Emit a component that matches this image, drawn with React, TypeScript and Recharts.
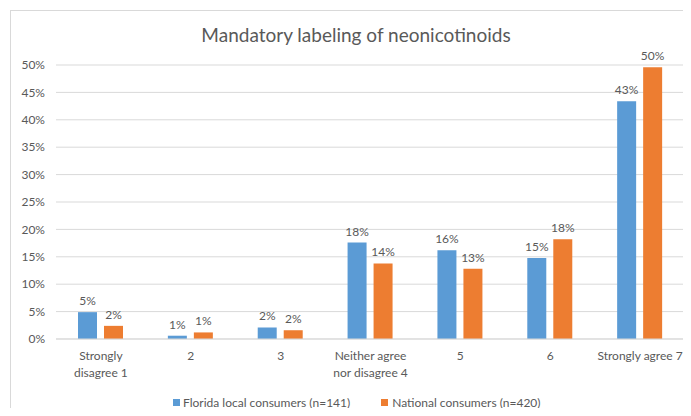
import { Bar, BarChart, CartesianGrid, LabelList, XAxis, YAxis } from "recharts";

const categories = [
  "Strongly disagree 1",
  "2",
  "3",
  "Neither agree nor disagree 4",
  "5",
  "6",
  "Strongly agree 7",
];
const tickLines = [
  ["Strongly", "disagree 1"],
  ["2"],
  ["3"],
  ["Neither agree", "nor disagree 4"],
  ["5"],
  ["6"],
  ["Strongly agree 7"],
];
const florida = [4.9, 0.6, 2.1, 17.6, 16.2, 14.8, 43.4];
const national = [2.4, 1.2, 1.6, 13.8, 12.8, 18.2, 49.6];
const yTicks = [0, 5, 10, 15, 20, 25, 30, 35, 40, 45, 50];

const data = categories.map((c, i) => ({
  name: c,
  florida: florida[i],
  national: national[i],
}));

const FONT = "Lato, 'Open Sans', sans-serif";
const TEXT = "#595959";
const BLUE = "#5b9bd5";
const ORANGE = "#ed7d31";

function CatTick(props: any) {
  const { x, payload } = props;
  const lines = tickLines[payload.index] || [payload.value];
  // axis sits at y=339; first line baseline ~360
  return (
    <text x={x} y={339} textAnchor="middle" fill={TEXT} fontSize={12} fontFamily={FONT}>
      {lines.map((l: string, i: number) => (
        <tspan key={i} x={x} dy={i === 0 ? 21 : 17}>
          {l}
        </tspan>
      ))}
    </text>
  );
}

export default function App() {
  return (
    <div style={{ margin: -8, width: 691, height: 416, position: "relative", overflow: "hidden", background: "#fff", fontFamily: FONT }}>
      <div
        style={{
          position: "absolute",
          left: 10,
          top: 10,
          width: 720,
          height: 440,
          border: "1px solid #d9d9d9",
        }}
      />
      <div
        style={{
          position: "absolute",
          top: 23,
          left: 0,
          width: 712,
          textAlign: "center",
          fontSize: 19,
          color: TEXT,
        }}
      >
        Mandatory labeling of neonicotinoids
      </div>
      <div style={{ position: "absolute", left: 0, top: 0 }}>
        <BarChart
          width={691}
          height={416}
          data={data}
          margin={{ top: 65, right: 6, left: 0, bottom: 0 }}
          barSize={19}
          barGap={7}
          style={{ overflow: "visible" }}
        >
          <CartesianGrid stroke="#d9d9d9" vertical={false} />
          <XAxis
            dataKey="name"
            height={77}
            tick={<CatTick />}
            tickLine={false}
            axisLine={{ stroke: "#d9d9d9" }}
            interval={0}
          />
          <YAxis
            width={56}
            domain={[0, 50]}
            ticks={yTicks}
            tickFormatter={(v) => `${v}%`}
            tickLine={false}
            axisLine={false}
            tickSize={0}
            tickMargin={11}
            tick={{ fill: TEXT, fontSize: 12, fontFamily: FONT }}
          />
          <Bar dataKey="florida" fill={BLUE} isAnimationActive={false}>
            <LabelList
              dataKey="florida"
              position="top"
              offset={7}
              formatter={(v: any) => `${Math.round(v)}%`}
              style={{ fill: TEXT, fontSize: 12, fontFamily: FONT }}
            />
          </Bar>
          <Bar dataKey="national" fill={ORANGE} isAnimationActive={false}>
            <LabelList
              dataKey="national"
              position="top"
              offset={7}
              formatter={(v: any) => `${Math.round(v)}%`}
              style={{ fill: TEXT, fontSize: 12, fontFamily: FONT }}
            />
          </Bar>
        </BarChart>
      </div>
      <div
        style={{
          position: "absolute",
          top: 395,
          left: 173,
          display: "flex",
          alignItems: "center",
          fontSize: 12,
          color: TEXT,
        }}
      >
        <span style={{ width: 7, height: 7, background: BLUE, marginRight: 3 }} />
        <span style={{ marginRight: 31 }}>Florida local consumers (n=141)</span>
        <span style={{ width: 7, height: 7, background: ORANGE, marginRight: 4 }} />
        <span>National consumers (n=420)</span>
      </div>
    </div>
  );
}
